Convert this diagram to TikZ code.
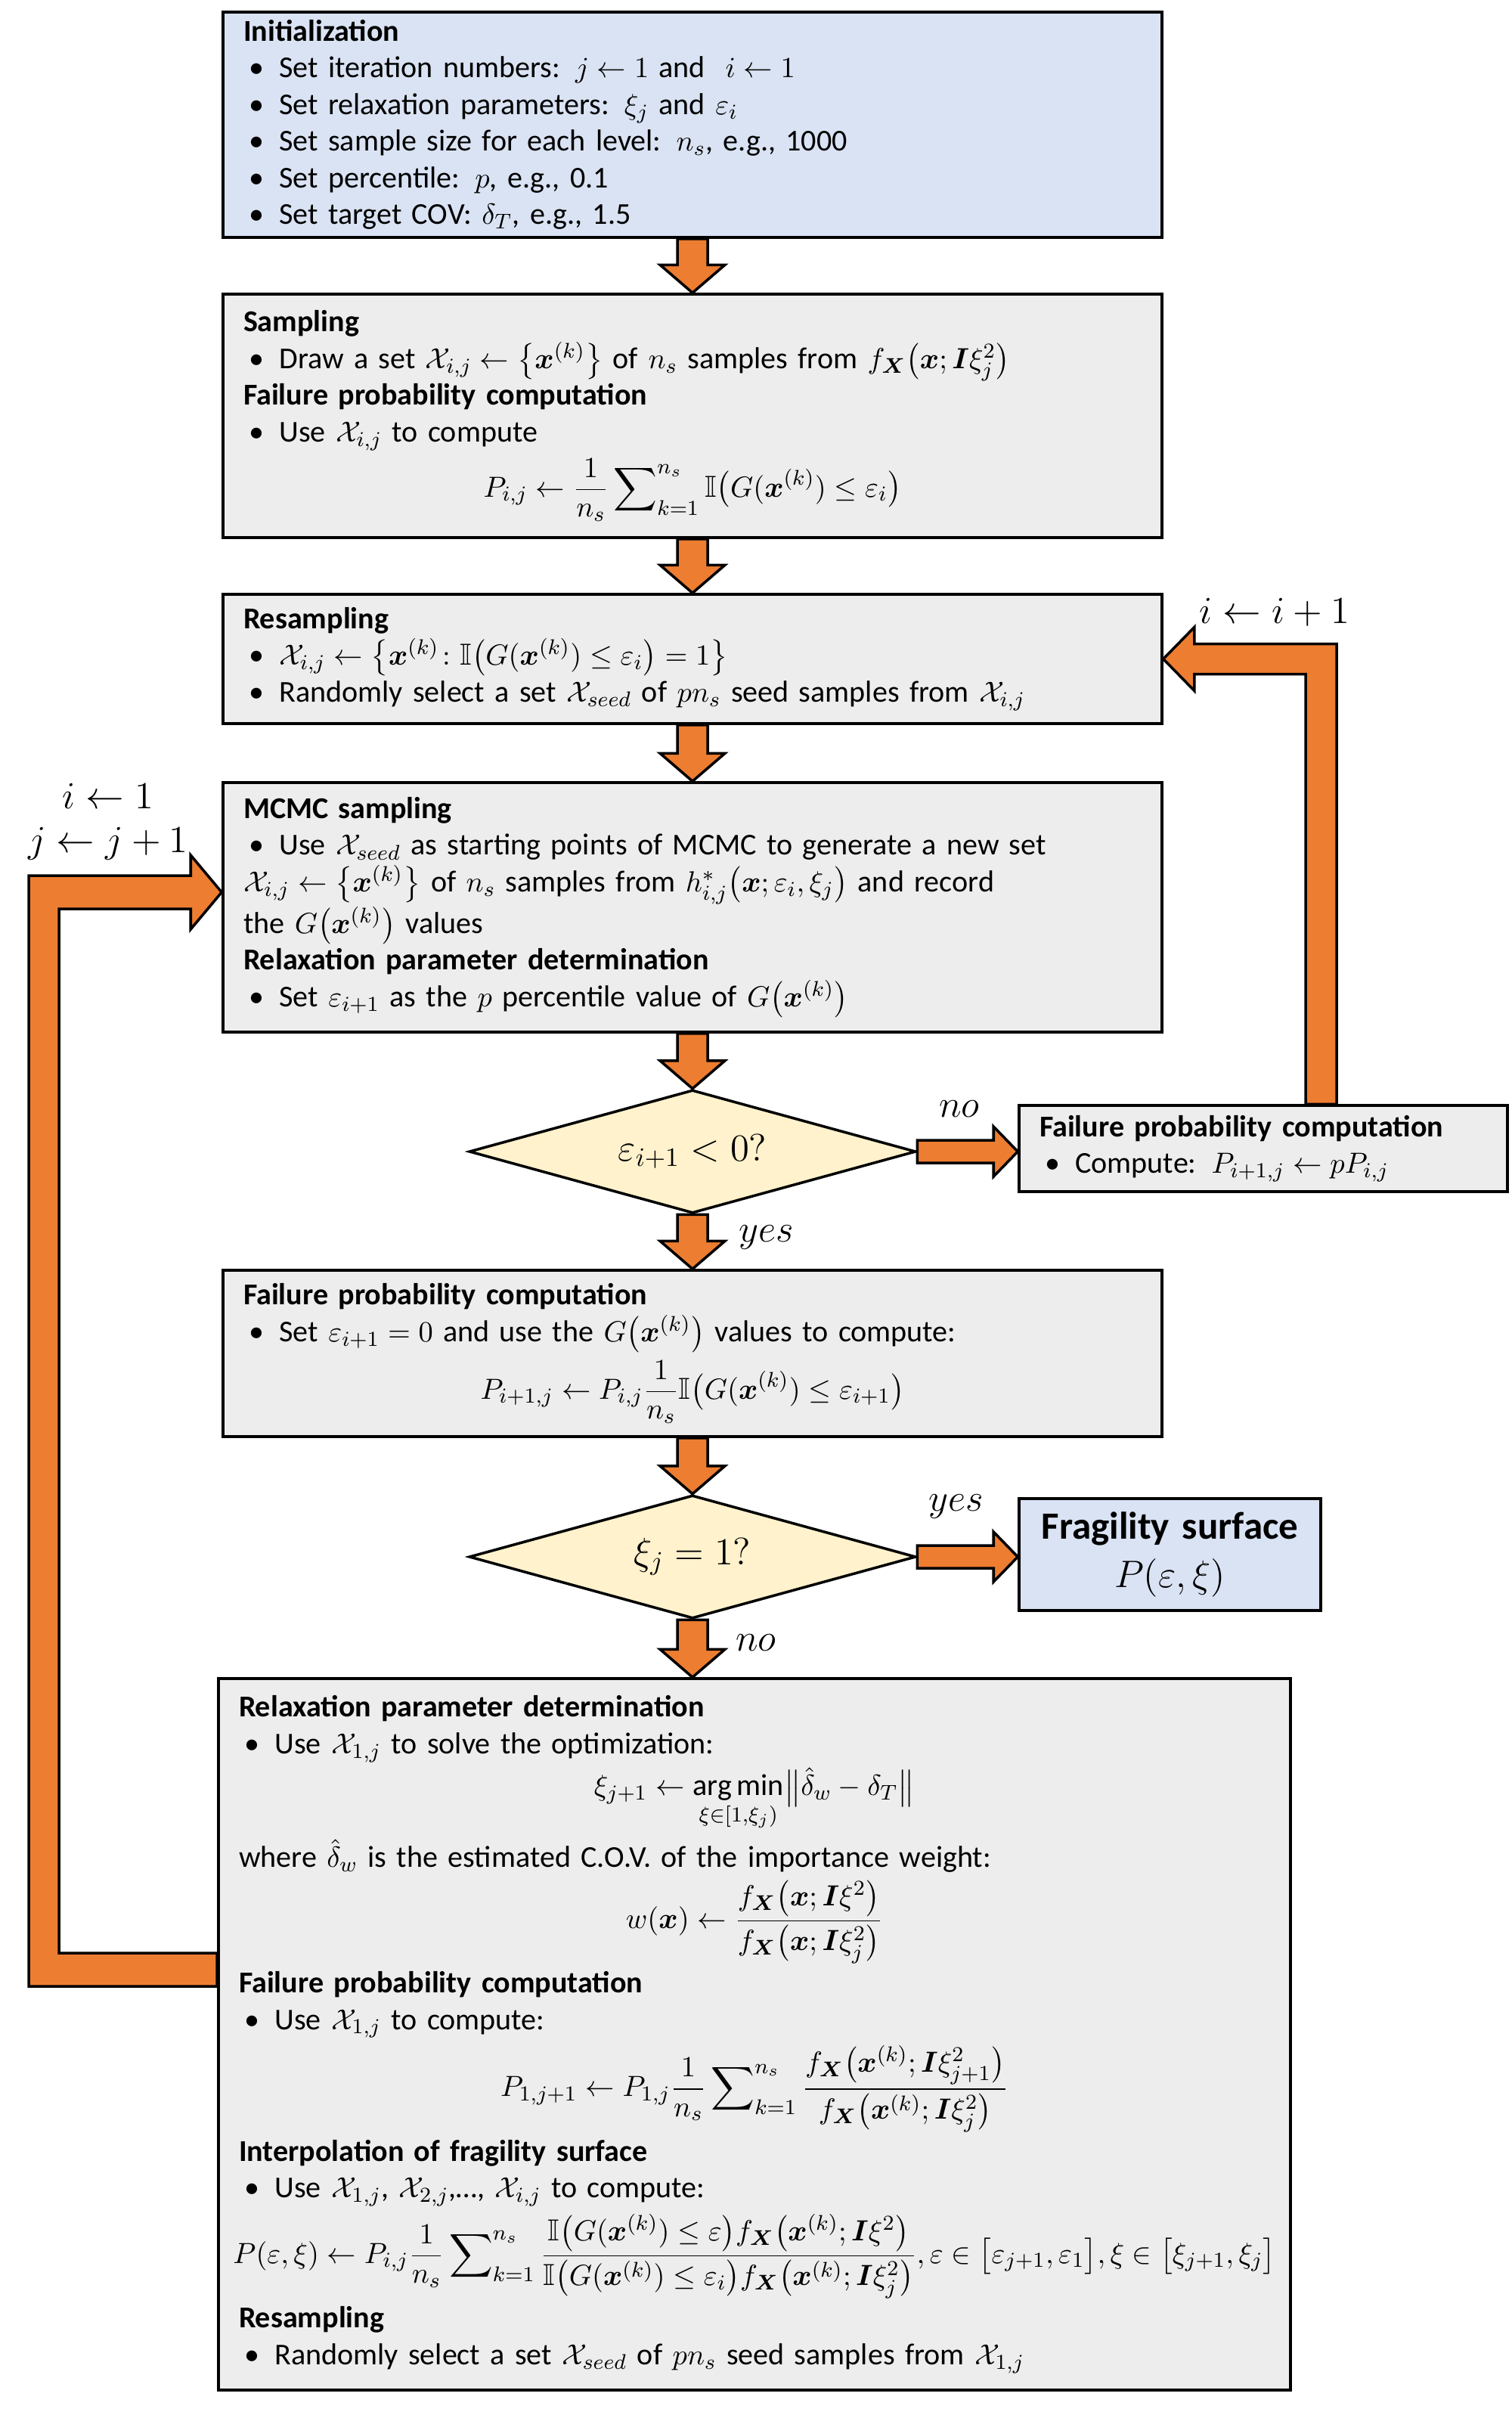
\documentclass[tikz,border=0pt]{standalone}
\usepackage{amsmath,amssymb,bm}
\usepackage{fontspec}
\setmainfont{Carlito}
\usetikzlibrary{calc,shapes.geometric}
\definecolor{boxgray}{HTML}{EDEDED}
\definecolor{initblue}{HTML}{DAE3F3}
\definecolor{decyel}{HTML}{FFF2CC}
\definecolor{floworange}{HTML}{ED7D31}

% bullet line and centred formula line inside a box
\newcommand{\itm}[1]{\par\noindent\hangindent=13.5pt\hangafter=1\hspace*{2pt}\makebox[11.5pt][l]{\textbullet}#1\par}
\newcommand{\eqn}[1]{\par\vspace{2pt}\noindent\hbox to\linewidth{\hss$\displaystyle #1$\hss}\par\vspace{2pt}}

% fat block arrows
\newcommand{\downflow}[2]{%
  \draw[blk] ($(#1.south)+(-.2,0)$) -- ($(#1.south |- #2.north)+(-.2,.37)$) -- ++(-.23,0)
    -- (#1.south |- #2.north) -- ++(.43,.37) -- ++(-.23,0) -- ($(#1.south)+(.2,0)$) -- cycle;}
\newcommand{\rightflow}[2]{%
  \draw[blk] ($(#1.east)+(0,.15)$) -- ($(#1.east -| #2.west)+(-.32,.15)$) -- ++(0,.18)
    -- (#1.east -| #2.west) -- ++(-.32,-.33) -- ++(0,.18) -- ($(#1.east)+(0,-.15)$) -- cycle;}

\begin{document}
\begin{tikzpicture}[
    panel/.style={draw=black, line width=1pt, fill=boxgray, align=left, text width=11.88cm,
                  inner xsep=.27cm, inner ysep=.08cm, font=\fontsize{11.4}{13.8}\selectfont},
    decide/.style={diamond, draw=black, line width=1pt, fill=decyel, aspect=3.6, inner sep=0pt,
                   minimum width=5.91cm, minimum height=1.63cm, font=\fontsize{14.5}{17}\selectfont},
    blk/.style={fill=floworange, draw=black, line width=1pt, line join=miter},
    lab/.style={font=\fontsize{14}{16}\selectfont, inner sep=0pt}
  ]
  \useasboundingbox (0,0) rectangle (20,-31.94);

  \node[panel, fill=initblue, minimum height=2.98cm] (init) at (9.16,-1.65) {%
    \textbf{Initialization}\par
    \itm{Set iteration numbers: $j\leftarrow 1$ and \ $i\leftarrow 1$}
    \itm{Set relaxation parameters: $\xi_j$ and $\varepsilon_i$}
    \itm{Set sample size for each level: $n_s$, e.g., 1000}
    \itm{Set percentile: $p$, e.g., 0.1}
    \itm{Set target COV: $\delta_T$, e.g., 1.5}};

  \node[panel, minimum height=3.22cm] (samp) at (9.16,-5.50) {%
    \textbf{Sampling}\par
    \itm{Draw a set $\mathcal{X}_{i,j}\leftarrow\bigl\{\bm{x}^{(k)}\bigr\}$ of $n_s$ samples from $f_{\bm X}\bigl(\bm x;\bm I\xi_j^2\bigr)$}
    \textbf{Failure probability computation}\par
    \itm{Use $\mathcal{X}_{i,j}$ to compute}
    \eqn{P_{i,j}\leftarrow\frac{1}{n_s}\sum\nolimits_{k=1}^{n_s}\mathbb{I}\bigl(G(\bm x^{(k)})\le\varepsilon_i\bigr)}};

  \node[panel, minimum height=1.71cm] (resamp) at (9.16,-8.715) {%
    \textbf{Resampling}\par
    \itm{$\mathcal{X}_{i,j}\leftarrow\bigl\{\bm x^{(k)}\colon\mathbb{I}\bigl(G(\bm x^{(k)})\le\varepsilon_i\bigr)=1\bigr\}$}
    \itm{Randomly select a set $\mathcal{X}_{seed}$ of $pn_s$ seed samples from $\mathcal{X}_{i,j}$}};

  \node[panel, minimum height=3.30cm] (mcmc) at (9.16,-12.00) {%
    \textbf{MCMC sampling}\par
    \itm{Use $\mathcal{X}_{seed}$ as starting points of MCMC to generate a new set\\
      $\mathcal{X}_{i,j}\leftarrow\bigl\{\bm x^{(k)}\bigr\}$ of $n_s$ samples from $h^{*}_{i,j}\bigl(\bm x;\varepsilon_i,\xi_j\bigr)$ and record\\
      the $G\bigl(\bm x^{(k)}\bigr)$ values}
    \textbf{Relaxation parameter determination}\par
    \itm{Set $\varepsilon_{i+1}$ as the $p$ percentile value of $G\bigl(\bm x^{(k)}\bigr)$}};

  \node[decide] (dec1) at (9.16,-15.23) {$\varepsilon_{i+1}<0?$};

  \node[panel, text width=5.92cm, minimum height=1.14cm] (fprob) at (16.71,-15.19) {%
    \textbf{Failure probability computation}\par
    \itm{Compute: $P_{i+1,j}\leftarrow pP_{i,j}$}};

  \node[panel, minimum height=2.20cm] (fzero) at (9.16,-17.90) {%
    \textbf{Failure probability computation}\par
    \itm{Set $\varepsilon_{i+1}=0$ and use the $G\bigl(\bm x^{(k)}\bigr)$ values to compute:}
    \eqn{P_{i+1,j}\leftarrow P_{i,j}\frac{1}{n_s}\mathbb{I}\bigl(G(\bm x^{(k)})\le\varepsilon_{i+1}\bigr)}};

  \node[decide] (dec2) at (9.16,-20.59) {$\xi_j=1?$};

  \node[panel, fill=initblue, align=center, text width=3.45cm, minimum height=1.48cm,
        font=\fontsize{14.5}{18}\selectfont] (surf) at (15.475,-20.56)
    {\textbf{Fragility surface}\\$P(\varepsilon,\xi)$};

  \node[panel, text width=13.64cm, minimum height=9.41cm] (update) at (9.98,-26.905) {%
    \textbf{Relaxation parameter determination}\par
    \itm{Use $\mathcal{X}_{1,j}$ to solve the optimization:}
    \eqn{\xi_{j+1}\leftarrow\operatorname*{arg\,min}_{\xi\in[1,\xi_j)}\bigl\|\hat\delta_w-\delta_T\bigr\|}
    \noindent where $\hat\delta_w$ is the estimated C.O.V. of the importance weight:\par
    \eqn{w(\bm x)\leftarrow\frac{f_{\bm X}\bigl(\bm x;\bm I\xi^2\bigr)}{f_{\bm X}\bigl(\bm x;\bm I\xi_j^2\bigr)}}
    \textbf{Failure probability computation}\par
    \itm{Use $\mathcal{X}_{1,j}$ to compute:}
    \eqn{P_{1,j+1}\leftarrow P_{1,j}\frac{1}{n_s}\sum\nolimits_{k=1}^{n_s}\frac{f_{\bm X}\bigl(\bm x^{(k)};\bm I\xi_{j+1}^2\bigr)}{f_{\bm X}\bigl(\bm x^{(k)};\bm I\xi_j^2\bigr)}}
    \textbf{Interpolation of fragility surface}\par
    \itm{Use $\mathcal{X}_{1,j}$, $\mathcal{X}_{2,j}$,\dots, $\mathcal{X}_{i,j}$ to compute:}
    \eqn{P(\varepsilon,\xi)\leftarrow P_{i,j}\frac{1}{n_s}\sum\nolimits_{k=1}^{n_s}\frac{\mathbb{I}\bigl(G(\bm x^{(k)})\le\varepsilon\bigr)f_{\bm X}\bigl(\bm x^{(k)};\bm I\xi^2\bigr)}{\mathbb{I}\bigl(G(\bm x^{(k)})\le\varepsilon_i\bigr)f_{\bm X}\bigl(\bm x^{(k)};\bm I\xi_j^2\bigr)},\varepsilon\in\bigl[\varepsilon_{j+1},\varepsilon_1\bigr],\xi\in\bigl[\xi_{j+1},\xi_j\bigr]}
    \textbf{Resampling}\par
    \itm{Randomly select a set $\mathcal{X}_{seed}$ of $pn_s$ seed samples from $\mathcal{X}_{1,j}$}};

  % labels
  \node[lab] (iinc) at (16.86,-8.10) {$i\leftarrow i+1$};
  \node[lab] (ireset) at (1.43,-10.53) {$i\leftarrow 1$};
  \node[lab] (jinc) at (1.43,-11.16) {$j\leftarrow j+1$};
  \node[lab] (no1) at (12.69,-14.67) {$no$};
  \node[lab] (yes1) at (10.14,-16.36) {$yes$};
  \node[lab] (yes2) at (12.65,-19.92) {$yes$};
  \node[lab] (no2) at (10.00,-21.73) {$no$};

  % main flow
  \downflow{init}{samp}
  \downflow{samp}{resamp}
  \downflow{resamp}{mcmc}
  \downflow{mcmc}{dec1}
  \downflow{dec1}{fzero}
  \downflow{fzero}{dec2}
  \downflow{dec2}{update}
  \rightflow{dec1}{fprob}
  \rightflow{dec2}{surf}

  % loop back to resampling
  \coordinate (rtip) at (resamp.east);
  \draw[blk] ($(fprob.north)+(.56,0)$) |- ($(rtip)+(.41,-.2)$) -- ++(0,-.22) -- (rtip)
    -- ++(.41,.42) -- ++(0,-.22) -| ($(fprob.north)+(.97,0)$) -- cycle;

  % loop back to MCMC sampling
  \coordinate (lout) at ($(update.west)+(0,.855)$);
  \coordinate (lin) at ($(mcmc.west)+(0,.2)$);
  \draw[blk] ($(lout)+(0,-.22)$) -- ++(-2.49,0) |- ($(lin)+(-.41,.22)$) -- ++(0,.27) -- (lin)
    -- ++(-.41,-.49) -- ++(0,.27) -| ($(lout)+(-2.09,.22)$) -- ($(lout)+(0,.22)$) -- cycle;
\end{tikzpicture}
\end{document}
